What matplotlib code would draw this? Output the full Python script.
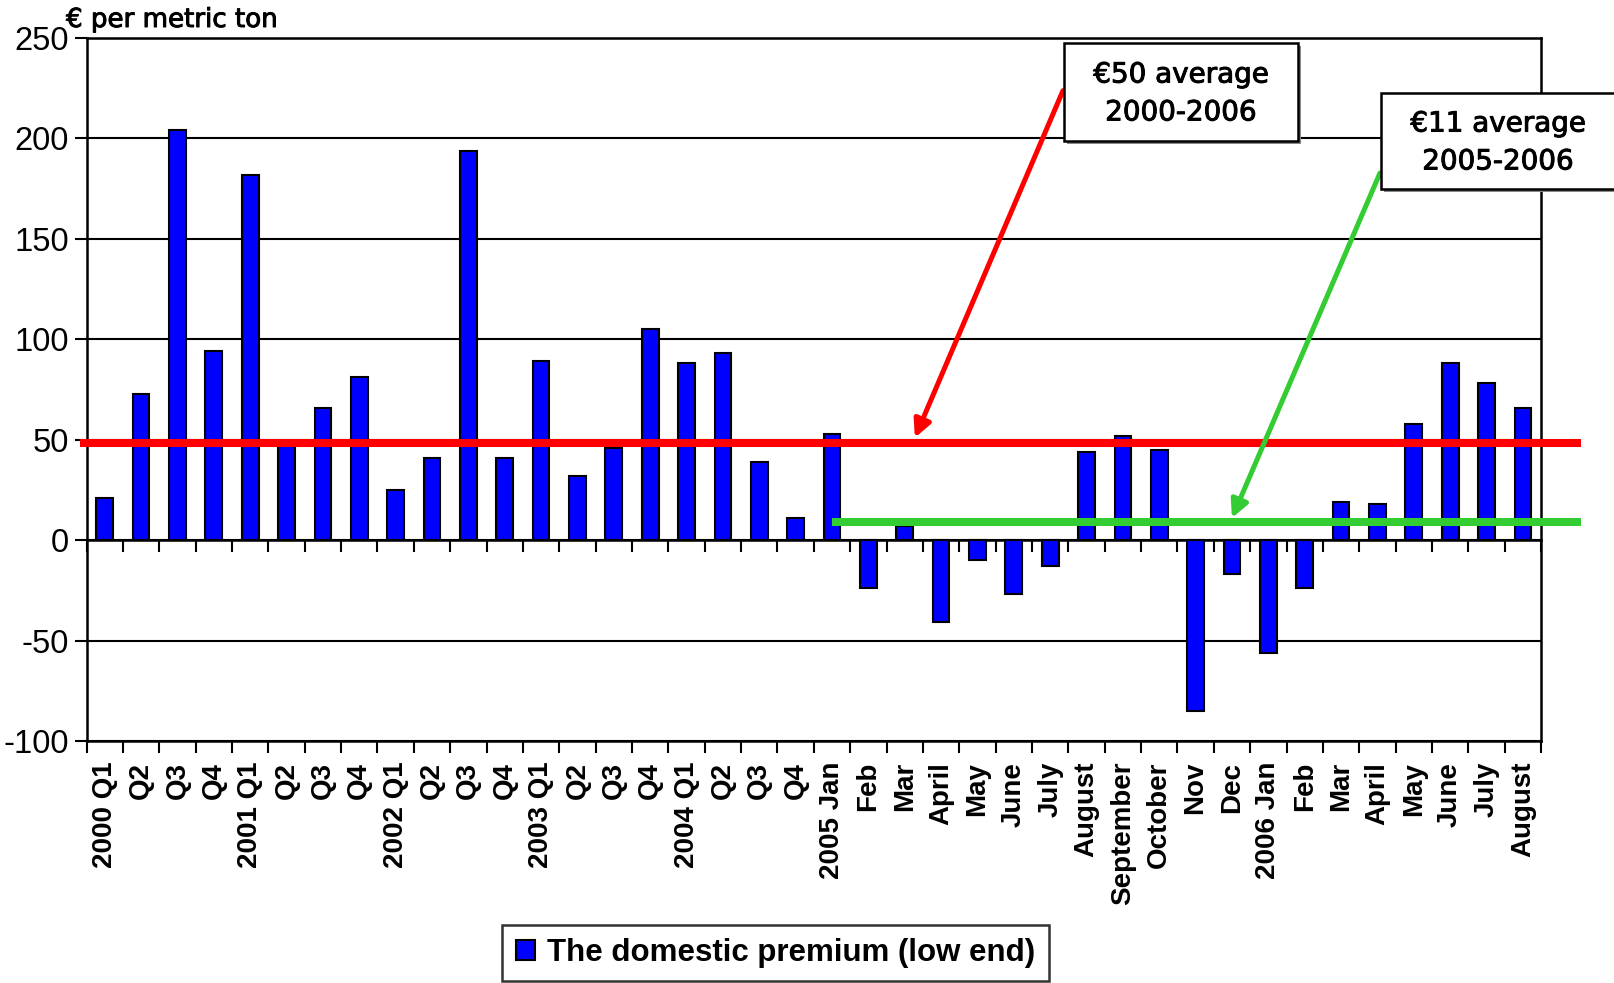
import matplotlib
matplotlib.use('Agg')
import matplotlib.pyplot as plt
import matplotlib.patheffects as pe
from matplotlib.patches import Rectangle
import numpy as np

categories = ["2000 Q1", "Q2", "Q3", "Q4", "2001 Q1", "Q2", "Q3", "Q4",
              "2002 Q1", "Q2", "Q3", "Q4", "2003 Q1", "Q2", "Q3", "Q4",
              "2004 Q1", "Q2", "Q3", "Q4",
              "2005 Jan", "Feb", "Mar", "April", "May", "June", "July", "August",
              "September", "October", "Nov", "Dec",
              "2006 Jan", "Feb", "Mar", "April", "May", "June", "July", "August"]
premium = [21, 73, 204, 94, 182, 48, 66, 81, 25, 41, 194, 41, 89, 32, 46, 105,
           88, 93, 39, 11, 53, -24, 7, -41, -10, -27, -13, 44, 52, 45, -85, -17,
           -56, -24, 19, 18, 58, 88, 78, 66]
avg_2000_2006 = 48.5
avg_2005_2006 = 9
label_all = "€50 average\n2000-2006"
label_recent = "€11 average\n2005-2006"
series_name = "The domestic premium (low end)"
y_unit = "€ per metric ton"
yticks = [-100, -50, 0, 50, 100, 150, 200, 250]

fig = plt.figure(figsize=(16.14, 9.83), dpi=100)
ax = fig.add_axes([0.0536, 0.2462, 0.9012, 0.7151])

n = len(categories)
x = np.arange(n)
bars = ax.bar(x, premium, width=0.46, color='#0000FF', edgecolor='black',
              linewidth=1.5, zorder=3, label=series_name)

ax.set_xlim(-0.5, n - 0.5)
ax.set_ylim(-100, 250)
ax.set_yticks(yticks)
ax.set_yticklabels([str(v) for v in yticks], fontfamily='Liberation Sans', fontsize=23.5)
ax.yaxis.grid(True, color='black', linewidth=1.5, zorder=1)
ax.set_axisbelow(True)
ax.tick_params(axis='y', direction='out', length=8.6, width=1.5, pad=4)

ax.set_xticks(x)
ax.set_xticklabels(categories, rotation=90, fontfamily='Liberation Sans',
                   fontweight='bold', fontsize=20, va='top', ha='center')
ax.set_xticks(np.arange(-0.5, n, 1.0), minor=True)
ax.tick_params(axis='x', which='major', length=0, pad=15)
ax.tick_params(axis='x', which='minor', direction='out', length=8.6, width=1.5)
for s in ax.spines.values():
    s.set_linewidth(1.8)

# zero axis line with tick marks
sec = ax.secondary_xaxis(100 / 350)
sec.set_xticks(np.arange(-0.5, n, 1.0))
sec.set_xticklabels([])
sec.tick_params(direction='out', length=8.6, width=1.5)
sec.spines['bottom'].set_linewidth(1.8)

# average lines
ax.plot([-0.68, n + 0.6], [avg_2000_2006, avg_2000_2006], color='#FF0000',
        linewidth=5.8, zorder=5, clip_on=False, solid_capstyle='butt')
ax.plot([20, n + 0.6], [avg_2005_2006, avg_2005_2006], color='#33CC33',
        linewidth=5.8, zorder=5, clip_on=False, solid_capstyle='butt')

# arrows
ax.annotate('', xy=(22.28, avg_2000_2006 + 2.5), xycoords='data',
            xytext=(0.6586, 0.9078), textcoords='figure fraction',
            arrowprops=dict(arrowstyle='-|>', color='#FF0000', lw=3.6,
                            mutation_scale=26, shrinkA=0, shrinkB=0),
            annotation_clip=False, zorder=6)
ax.annotate('', xy=(31.0, avg_2005_2006 + 2), xycoords='data',
            xytext=(0.855, 0.824), textcoords='figure fraction',
            arrowprops=dict(arrowstyle='-|>', color='#33CC33', lw=3.6,
                            mutation_scale=26, shrinkA=0, shrinkB=0),
            annotation_clip=False, zorder=6)

thick = [pe.withStroke(linewidth=0.7, foreground='black')]

# text boxes
for (x0, y0, w, h, tx, ty, txt) in [
        (1064, 43, 234, 98, 1181, 93.5, label_all),
        (1381, 93, 240, 96, 1498, 142.5, label_recent)]:
    fig.patches.append(Rectangle((x0 / 1614 + 0.002, 1 - (y0 + h) / 983 - 0.003),
                                 w / 1614, h / 983, transform=fig.transFigure,
                                 facecolor='#888888', edgecolor='none', zorder=8))
    fig.patches.append(Rectangle((x0 / 1614, 1 - (y0 + h) / 983), w / 1614, h / 983,
                                 transform=fig.transFigure, facecolor='white',
                                 edgecolor='black', linewidth=1.8, zorder=9))
    fig.text(tx / 1614, 1 - ty / 983, txt, ha='center', va='center',
             fontfamily='DejaVu Sans', fontsize=20, linespacing=1.45, zorder=10,
             path_effects=thick)

fig.text(66 / 1614, 1 - 27 / 983, y_unit, ha='left', va='baseline',
         fontfamily='DejaVu Sans', fontsize=18.8, path_effects=thick)

leg = fig.legend(handles=[bars], labels=[series_name], loc='lower center',
                 bbox_to_anchor=(0.4805, 0.002), frameon=True, fancybox=False,
                 edgecolor='black', handlelength=0.62, handleheight=0.62,
                 handletextpad=0.4, borderpad=0.42, borderaxespad=0,
                 prop={'family': 'Liberation Sans', 'weight': 'bold', 'size': 22.5})
leg.get_frame().set_linewidth(1.8)

fig.savefig('out.png', dpi=100)
